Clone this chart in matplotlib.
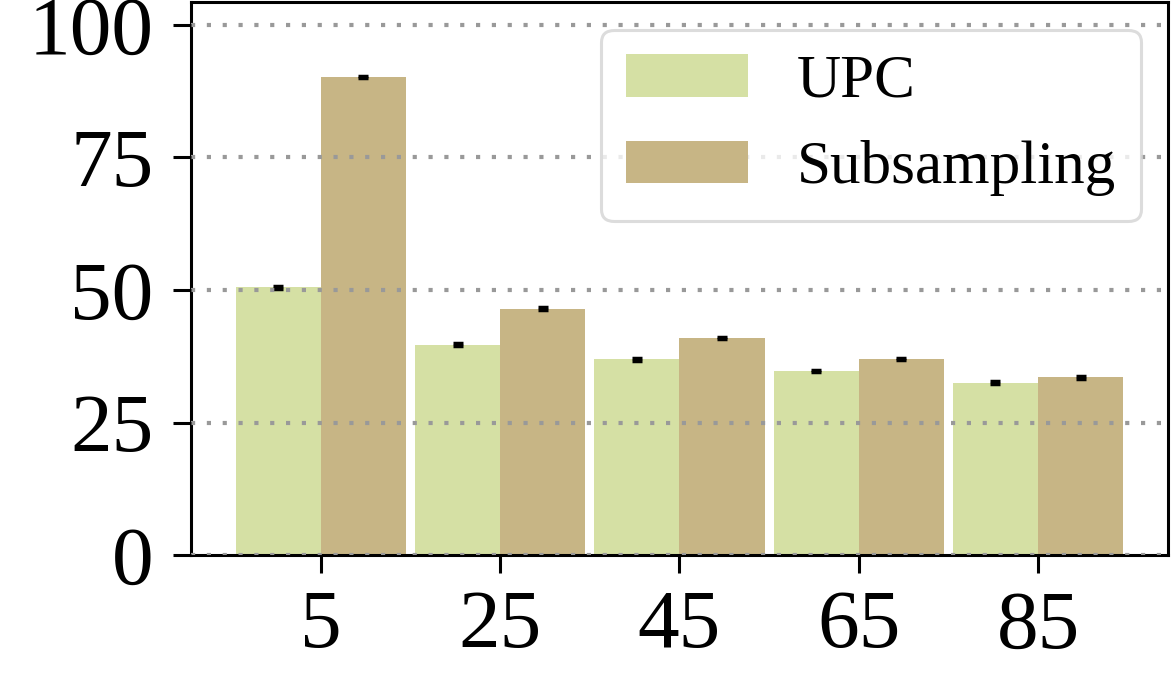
import numpy as np
import matplotlib
matplotlib.use('Agg')
import matplotlib.pyplot as plt

plt.rcParams['font.family'] = ['Liberation Serif', 'DejaVu Serif']

sizes = [5, 25, 45, 65, 85]
upc = [50.5, 39.7, 36.9, 34.8, 32.5]
subsampling = [90.2, 46.5, 41.0, 37.0, 33.5]
upc_err = [0.25, 0.25, 0.2, 0.2, 0.25]
sub_err = [0.2, 0.2, 0.2, 0.2, 0.25]
yticks = [0, 25, 50, 75, 100]

fig = plt.figure(figsize=(11.71, 6.82), dpi=100)
ax = fig.add_axes([0.163, 0.186, 0.8345, 0.811])

w = 9.5
x = np.array(sizes)
ax.bar(x, upc, width=-w, align='edge', color='#d5e0a4', label='UPC')
ax.bar(x, subsampling, width=w, align='edge', color='#c7b585', label='Subsampling')
ax.errorbar(x - w / 2, upc, yerr=upc_err, fmt='none', ecolor='black', capsize=3.5, capthick=2.5, elinewidth=1)
ax.errorbar(x + w / 2, subsampling, yerr=sub_err, fmt='none', ecolor='black', capsize=3.5, capthick=2.5, elinewidth=1)

ax.set_xlim(-9.5, 99.5)
ax.set_ylim(0, 104.3)
ax.set_xticks(sizes)
ax.set_yticks(yticks)
ax.grid(axis='y', linestyle=(0, (1, 2.8)), color='#999999', linewidth=3)
ax.set_axisbelow(False)

for s in ax.spines.values():
    s.set_linewidth(2.2)
ax.tick_params(axis='both', labelsize=60, length=13, width=2.2)
ax.tick_params(axis='x', pad=12)
ax.tick_params(axis='y', pad=14)

leg = ax.legend(fontsize=44, loc='upper right', borderaxespad=0.45)
leg.get_frame().set_linewidth(2.2)
leg.get_frame().set_edgecolor('#d4d4d4')

fig.savefig('out.png', dpi=100)
